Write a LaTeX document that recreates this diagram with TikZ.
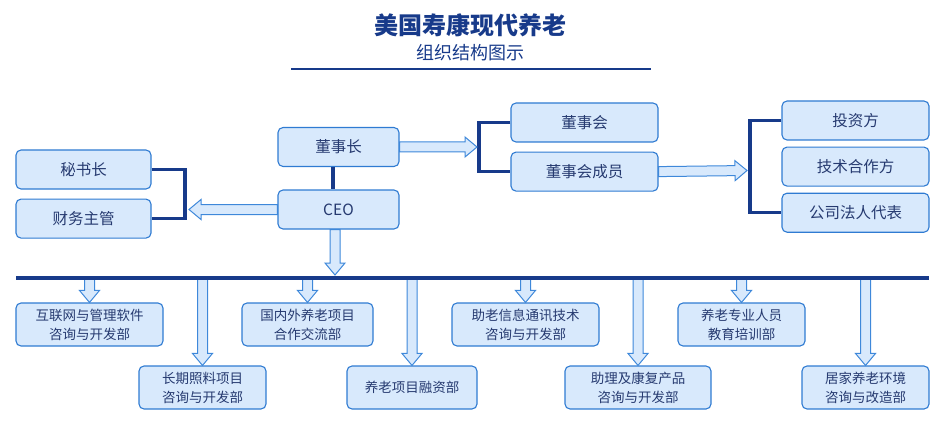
\documentclass[tikz,border=0pt]{standalone}
\usepackage{fontspec}
\setmainfont{Noto Sans CJK SC}
\usetikzlibrary{positioning, calc}

\definecolor{boxfill}{HTML}{D8E9FC}
\definecolor{boxline}{HTML}{2F7BD2}
\definecolor{navy}{HTML}{173A8A}
\definecolor{txt}{HTML}{263A70}
\definecolor{arrfill}{HTML}{D8E9FC}
\definecolor{arrline}{HTML}{3E88DA}

% hollow block arrow from #1 to #2
\newcommand{\fatarrow}[2]{%
  \path ($(#2)!12pt!(#1)$) coordinate (fathead);
  \draw[fat] ($(#1)!5pt!90:(#2)$) -- ($(fathead)!5pt!90:(#2)$) -- ($(fathead)!10pt!90:(#2)$) -- (#2)
    -- ($(fathead)!10pt!-90:(#2)$) -- ($(fathead)!5pt!-90:(#2)$) -- ($(#1)!5pt!-90:(#2)$) -- cycle;}

\begin{document}
\begin{tikzpicture}[
    x=1pt, y=-1pt,
    node distance=9pt and 30pt,
    unit/.style={
        draw=boxline,
        line width=1.1pt,
        rounded corners=5pt,
        fill=boxfill,
        text=txt,
        minimum height=39pt,
        inner sep=2pt,
        font=\fontsize{15.5}{18}\selectfont
    },
    dept/.style={
        unit,
        minimum height=43pt,
        align=center,
        font=\fontsize{13.5}{19}\selectfont
    },
    bracket/.style={draw=navy, line width=3.5pt},
    fat/.style={draw=arrline, fill=arrfill, line width=1pt, line join=miter}
]
\useasboundingbox (0,0) rectangle (941,422);

% title
\node[text=navy, font=\bfseries\fontsize{24}{28}\selectfont] (title) at (470.5,25) {美国寿康现代养老};
\node[text=navy, font=\fontsize{18}{22}\selectfont] (subtitle) at (470.5,53) {组织结构图示};
\coordinate (ulinel) at (291,69);
\coordinate (uliner) at (651,69);
\draw[navy, line width=2pt] (ulinel) -- (uliner);

% top level
\node[unit, minimum width=121pt] (dsz) at (338.5,147) {董事长};
\node[unit, minimum width=121pt] (ceo) at (338.5,209.5) {CEO};
\node[unit, minimum width=135pt] (msz) at (83.5,169.5) {秘书长};
\node[unit, minimum width=135pt, below=9pt of msz] (cwzg) {财务主管};
\node[unit, minimum width=147pt] (dsh) at (584.5,122.5) {董事会};
\node[unit, minimum width=147pt, below=9pt of dsh] (dshcy) {董事会成员};
\node[unit, minimum width=147pt] (tzf) at (855.5,120.5) {投资方};
\node[unit, minimum width=147pt, below=6pt of tzf] (jshz) {技术合作方};
\node[unit, minimum width=147pt, below=6pt of jshz] (frdb) {公司法人代表};

% departments
\node[dept, minimum width=147pt] (d1) at (89.5,324.5) {互联网与管理软件\\咨询与开发部};
\node[dept, minimum width=127pt] (d2) at (202.5,387.5) {长期照料项目\\咨询与开发部};
\node[dept, minimum width=131pt] (d3) at (307.5,324.5) {国内外养老项目\\合作交流部};
\node[dept, minimum width=130pt] (d4) at (412,387.5) {养老项目融资部};
\node[dept, minimum width=147pt] (d5) at (525.5,324.5) {助老信息通讯技术\\咨询与开发部};
\node[dept, minimum width=146pt] (d6) at (638,387.5) {助理及康复产品\\咨询与开发部};
\node[dept, minimum width=127pt] (d7) at (741.5,324.5) {养老专业人员\\教育培训部};
\node[dept, minimum width=127pt] (d8) at (865.5,387.5) {居家养老环境\\咨询与改造部};

% brackets
\coordinate (lb) at (185,193);
\coordinate (mb) at (479,146);
\coordinate (rb) at (750,165);
\draw[bracket] (msz.east) -| (lb) |- (cwzg.east);
\draw[bracket] (dsh.west) -| (mb) |- (dshcy.west);
\draw[bracket] (tzf.west) -| (rb) |- (frdb.west);
\draw[bracket] ([xshift=-5.5pt]dsz.south) -- ([xshift=-5.5pt]ceo.north);

% block arrows
\coordinate (t1) at (477,147);
\coordinate (t2) at (189,209.5);
\coordinate (t3) at (747,170.5);
\coordinate (c0) at ([xshift=-3.5pt]ceo.south);
\coordinate (t4) at (335,275);
\coordinate (busl) at (16,278);
\coordinate (busr) at (929,278);
\fatarrow{dsz.east}{t1}
\fatarrow{ceo.west}{t2}
\fatarrow{dshcy.east}{t3}
\fatarrow{c0}{t4}
\foreach \d in {d1,d2,d3,d4,d5,d6,d7,d8}{
    \coordinate (top\d) at (\d.north |- busl);
    \fatarrow{top\d}{\d.north}
}

% bus line
\draw[bracket] (busl) -- (busr);
\end{tikzpicture}
\end{document}
